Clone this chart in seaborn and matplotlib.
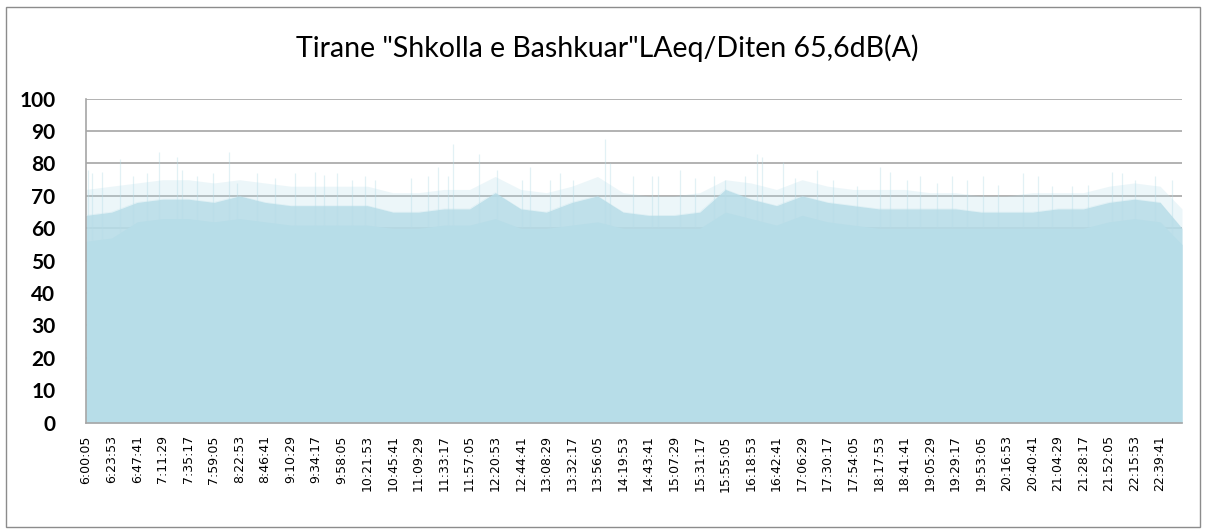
import numpy as np
import pandas as pd
import matplotlib
matplotlib.use("Agg")
import matplotlib.pyplot as plt
from matplotlib.patches import Rectangle
import seaborn as sns

# ── Data ──────────────────────────────────────────────────────────────
title = 'Tirane "Shkolla e Bashkuar"LAeq/Diten 65,6dB(A)'

tick_labels = [
    "6:00:05", "6:23:53", "6:47:41", "7:11:29", "7:35:17", "7:59:05", "8:22:53",
    "8:46:41", "9:10:29", "9:34:17", "9:58:05", "10:21:53", "10:45:41", "11:09:29",
    "11:33:17", "11:57:05", "12:20:53", "12:44:41", "13:08:29", "13:32:17", "13:56:05",
    "14:19:53", "14:43:41", "15:07:29", "15:31:17", "15:55:05", "16:18:53", "16:42:41",
    "17:06:29", "17:30:17", "17:54:05", "18:17:53", "18:41:41", "19:05:29", "19:29:17",
    "19:53:05", "20:16:53", "20:40:41", "21:04:29", "21:28:17", "21:52:05", "22:15:53",
    "22:39:41",
]
end_time = "23:00:05"

# level envelope sampled at each labelled time (+ end): solid floor, dense body, faint top
level_floor = [56, 57, 62, 63, 63, 62, 63, 62, 61, 61, 61, 61, 60, 60, 61, 61, 63, 60, 60, 61, 62, 60,
               60, 60, 60, 65, 63, 61, 64, 62, 61, 60, 60, 60, 60, 60, 60, 60, 60, 60, 62, 63, 62, 55]
level_body = [64, 65, 68, 69, 69, 68, 70, 68, 67, 67, 67, 67, 65, 65, 66, 66, 71, 66, 65, 68, 70, 65,
              64, 64, 65, 72, 69, 67, 70, 68, 67, 66, 66, 66, 66, 65, 65, 65, 66, 66, 68, 69, 68, 60]
level_top = [72, 73, 74, 75, 75, 74, 75, 74, 73, 73, 73, 73, 71, 71, 72, 72, 76, 72, 71, 73, 76, 71,
             70, 70, 71, 75, 74, 72, 75, 73, 72, 72, 72, 71, 71, 70, 70, 71, 71, 71, 73, 74, 73, 66]

# isolated peaks
spike_times = [
    "6:02", "6:06", "6:15", "6:32", "6:44", "6:57", "7:08", "7:25", "7:29", "7:43",
    "7:58", "8:13", "8:21", "8:39", "8:56", "9:15", "9:33", "9:42", "9:54", "10:08",
    "10:20", "10:29", "11:03", "11:18", "11:28", "11:37", "11:42", "12:06", "12:23", "12:46",
    "12:53", "13:12", "13:21", "13:33", "14:03", "14:08", "14:29", "14:47", "14:52", "15:13",
    "15:27", "15:45", "15:55", "16:13", "16:25", "16:29", "16:49", "17:00", "17:20", "17:35",
    "17:58", "18:19", "18:28", "18:44", "18:56", "19:12", "19:26", "19:40", "19:55", "20:09",
    "20:32", "20:46", "20:59", "21:18", "21:33", "21:55", "22:04", "22:16", "22:35", "22:51",
]
spike_levels = [
    78, 77, 77.5, 81.5, 76, 77, 83.5, 82, 78, 76,
    77, 83.5, 74, 77, 75.5, 77, 77.5, 76.5, 77, 75,
    76, 75, 75.5, 76, 79, 76, 86, 83, 78, 75,
    79, 75, 77, 75, 87.7, 80, 76, 76, 76, 78,
    75.5, 76, 75, 76, 83, 82, 80.5, 75.5, 78, 75,
    73, 79, 77.5, 75, 76, 74, 76, 75, 76, 73.5,
    77, 76, 73, 73, 73.5, 77.5, 77, 75, 76, 75,
]


def to_sec(s):
    parts = [int(p) for p in s.split(":")]
    while len(parts) < 3:
        parts.append(0)
    return parts[0] * 3600 + parts[1] * 60 + parts[2]


t0 = to_sec(tick_labels[0])
tick_pos = [to_sec(s) - t0 for s in tick_labels]

df = pd.DataFrame({
    "t": [to_sec(s) - t0 for s in tick_labels + [end_time]],
    "floor": level_floor,
    "body": level_body,
    "top": level_top,
})
spike_t = np.array([to_sec(s) - t0 for s in spike_times])

# ── Plot ──────────────────────────────────────────────────────────────
sns.set_style("white")
plt.rcParams["font.family"] = ["Lato", "DejaVu Sans"]
plt.rcParams["text.color"] = "black"
plt.rcParams["xtick.color"] = "black"
plt.rcParams["ytick.color"] = "black"

blue = "#b7dde8"
W, H = 1207, 529
fig = plt.figure(figsize=(W / 100, H / 100), dpi=100)
ax = fig.add_axes([86 / W, 1 - 422.7 / H, 1096 / W, 324 / H])

# stacked from 0 so there are no seams between the layers
ax.fill_between(df["t"], 0, df["top"], color=blue, alpha=0.25, lw=0, zorder=2)
ax.fill_between(df["t"], 0, df["body"], color=blue, alpha=0.85, lw=0, zorder=2)
ax.fill_between(df["t"], 0, df["floor"], color=blue, lw=0, zorder=2)
sns.lineplot(data=df, x="t", y="body", color=blue, lw=0.4, alpha=0.3, ax=ax, zorder=3)
ax.vlines(spike_t, np.interp(spike_t, df["t"], df["floor"]), spike_levels,
          colors=blue, lw=0.9, alpha=0.4, zorder=3)

ax.set_xlim(0, df["t"].iloc[-1])
ax.set_ylim(0, 100)
ax.set_yticks(range(0, 101, 10))
ax.yaxis.grid(True, color="#a6a6a6", lw=1.2)
ax.set_axisbelow(True)
ax.set_xlabel("")
ax.set_ylabel("")

ax.set_xticks(tick_pos)
ax.set_xticklabels(tick_labels, rotation=90, fontsize=9, family="DejaVu Sans")
ax.tick_params(axis="x", length=0, pad=9)
ax.tick_params(axis="y", length=0, pad=22, labelsize=15)
for lab in ax.get_yticklabels():
    lab.set_fontweight("bold")

for side in ["top", "right"]:
    ax.spines[side].set_visible(False)
for side in ["left", "bottom"]:
    ax.spines[side].set_color("#a6a6a6")
    ax.spines[side].set_linewidth(1.2)

fig.text(0.503, 1 - 48 / H, title, ha="center", va="center", fontsize=20.5)

fig.patches.append(Rectangle((6 / W, 2 / H), 1194 / W, 520 / H, transform=fig.transFigure,
                             fill=False, ec="#8c8c8c", lw=1))

fig.savefig("out.png", dpi=100)
